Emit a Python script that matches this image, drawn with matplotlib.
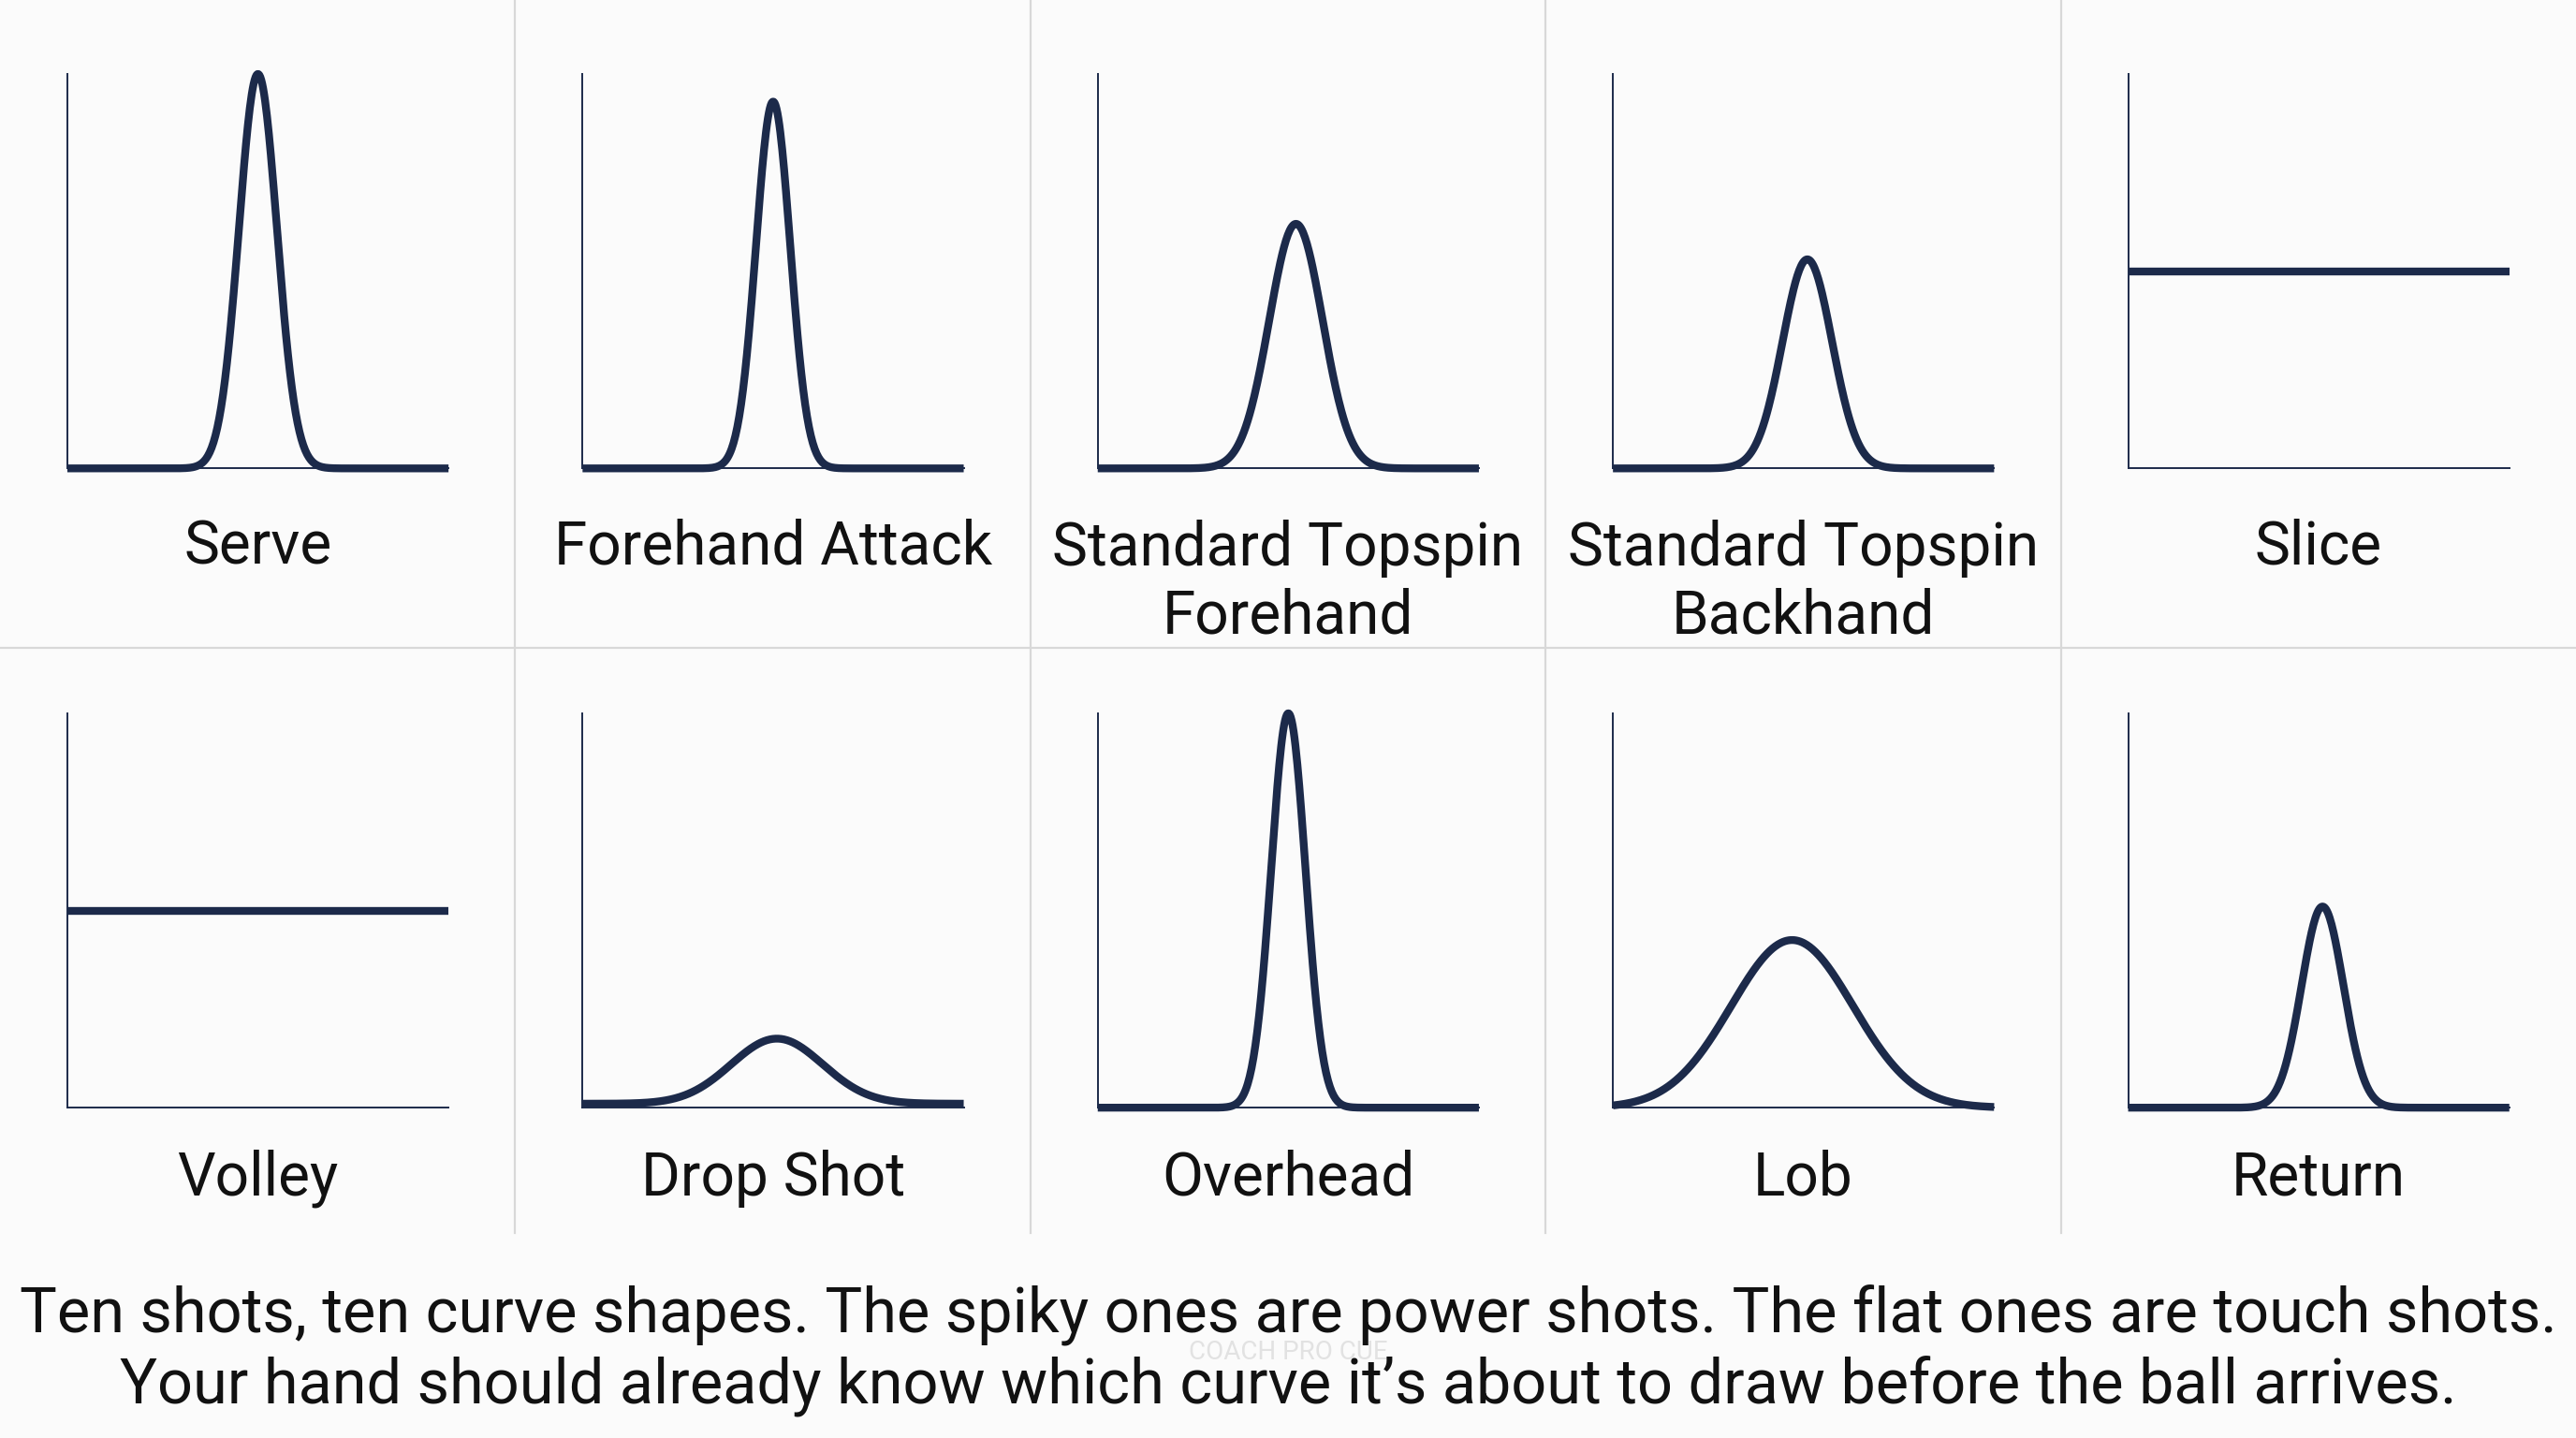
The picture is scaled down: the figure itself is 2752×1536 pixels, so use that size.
import numpy as np
import matplotlib.pyplot as plt

plt.rcParams['font.family'] = ['Roboto', 'DejaVu Sans']

# shot names and curve shape parameters (peak height, centre, spread, floor)
shots = ["Serve", "Forehand Attack", "Standard Topspin\nForehand", "Standard Topspin\nBackhand", "Slice",
         "Volley", "Drop Shot", "Overhead", "Lob", "Return"]
peaks = [1.0, 0.93, 0.62, 0.53, 0.5, 0.5, 0.175, 1.0, 0.425, 0.51]
centres = [0.50, 0.50, 0.52, 0.51, 0.5, 0.5, 0.51, 0.50, 0.47, 0.51]
spreads = [0.050, 0.045, 0.070, 0.065, None, None, 0.12, 0.045, 0.16, 0.055]
floors = [0.0, 0.0, 0.0, 0.0, 0.0, 0.0, 0.01, 0.0, 0.0, 0.0]

caption = ("Ten shots, ten curve shapes. The spiky ones are power shots. The flat ones are touch shots.\n"
           "Your hand should already know which curve it\u2019s about to draw before the ball arrives.")

NAVY = "#1c2a4a"
W, H = 1568.0, 875.0

fig = plt.figure(figsize=(13.76, 7.68), dpi=200)
fig.patch.set_facecolor("#fbfbfb")

# cell divider lines
for i in range(1, 5):
    xl = i / 5
    fig.add_artist(plt.Line2D([xl, xl], [1 - 750 / H, 1], color="#d8d8d8", lw=0.8))
fig.add_artist(plt.Line2D([0, 1], [1 - 394 / H, 1 - 394 / H], color="#d8d8d8", lw=0.8))

x = np.linspace(0, 1, 400)
for k, name in enumerate(shots):
    row, col = divmod(k, 5)
    left = (41 + W / 5 * col) / W
    bottom = 1 - (285 if row == 0 else 674) / H
    ax = fig.add_axes([left, bottom, 232 / W, 240 / H])
    ax.set_facecolor("none")
    if spreads[k] is None:
        y = np.full_like(x, peaks[k])
    else:
        y = floors[k] + (peaks[k] - floors[k]) * np.exp(-0.5 * ((x - centres[k]) / spreads[k]) ** 2)
    ax.plot(x, y, color=NAVY, lw=3.0, clip_on=False, solid_capstyle="butt")
    ax.set_xlim(0, 1)
    ax.set_ylim(0, 1)
    ax.set_xticks([])
    ax.set_yticks([])
    for s in ("top", "right"):
        ax.spines[s].set_visible(False)
    for s in ("left", "bottom"):
        ax.spines[s].set_color(NAVY)
        ax.spines[s].set_linewidth(0.7)
    if row == 0:
        ty = 1 - (354.5 if "\n" in name else 333) / H
    else:
        ty = 1 - 717 / H
    fig.text((col + 0.5) / 5, ty, name, ha="center", va="center",
             fontsize=23, color="#111111", linespacing=1.2)

fig.text(0.5, 1 - 822 / H, caption, ha="center", va="center", fontsize=24,
         color="#111111", linespacing=1.2)
fig.text(0.5, 1 - 823 / H, "COACH PRO CUE", ha="center", va="center", fontsize=10,
         color="#e2e2e2", zorder=0)

fig.savefig("out.png", dpi=200, facecolor=fig.get_facecolor())
